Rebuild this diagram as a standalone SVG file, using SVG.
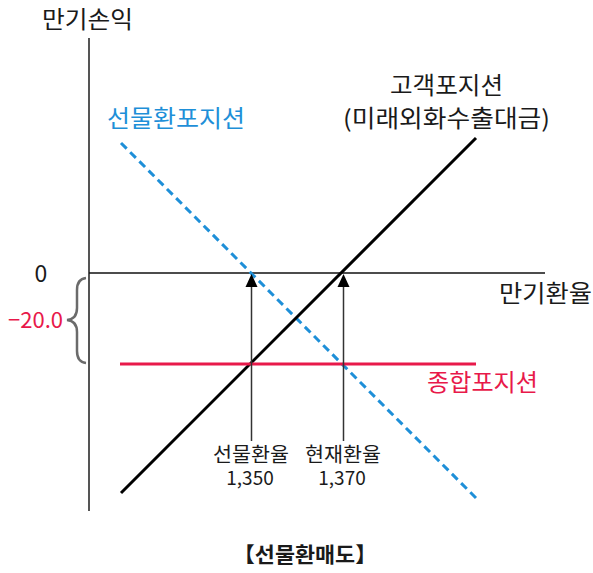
<svg xmlns="http://www.w3.org/2000/svg" width="593" height="573" viewBox="0 0 593 573">
<defs>
<style>
text{font-family:"Noto Sans CJK KR","Malgun Gothic","Noto Sans",sans-serif;}
.k{fill:#1a1a1a;font-size:23.5px;}
.s{fill:#1a1a1a;font-size:20px;}
.n{fill:#1a1a1a;font-size:19px;text-anchor:middle;}
.b{fill:#1e8fd8;font-size:23.5px;}
.r{fill:#e8194a;font-size:23.5px;}
.arr{stroke:#333;stroke-width:1.5;fill:none;}
.head{fill:#000;}
</style>
</defs>
<rect width="593" height="573" fill="#fff"/>
<g id="axes">
<line x1="89" y1="38" x2="89" y2="511" stroke="#555" stroke-width="2"/>
<line x1="89" y1="273" x2="545" y2="273" stroke="#111" stroke-width="1.3"/>
<path d="M86,278 Q77,279 77,290 L77,308 Q77,319 67,320 Q77,321 77,332 L77,351 Q77,362 86,363" fill="none" stroke="#6b6b6b" stroke-width="2.5"/>
</g>
<g id="connectors">
<line id="forward-position" x1="121" y1="143" x2="479" y2="501" stroke="#1e8fd8" stroke-width="3" stroke-dasharray="8,5"/>
<line id="customer-position" x1="121" y1="493" x2="476" y2="138" stroke="#000" stroke-width="3"/>
<line id="total-position" x1="120" y1="364" x2="476" y2="364" stroke="#e8194a" stroke-width="3.2"/>
<line class="arr" x1="251.5" y1="441" x2="251.5" y2="284"/>
<polygon class="head" points="251.5,274 245.5,287 257.5,287"/>
<line class="arr" x1="343.5" y1="441" x2="343.5" y2="284"/>
<polygon class="head" points="343.5,274 337.5,287 349.5,287"/>
</g>
<g id="labels">
<text class="k" x="42" y="28" textLength="91" lengthAdjust="spacingAndGlyphs">만기손익</text>
<text class="b" x="107" y="127" textLength="138" lengthAdjust="spacingAndGlyphs">선물환포지션</text>
<text class="k" x="390" y="94" textLength="113" lengthAdjust="spacingAndGlyphs">고객포지션</text>
<text class="k" x="343" y="127" textLength="207" lengthAdjust="spacingAndGlyphs">(미래외화수출대금)</text>
<text class="k" x="41" y="282" text-anchor="middle" style="font-size:23px">0</text>
<text class="r" x="8" y="328" textLength="55" lengthAdjust="spacingAndGlyphs" style="font-size:22px">−20.0</text>
<text class="k" x="499" y="302" textLength="93" lengthAdjust="spacingAndGlyphs">만기환율</text>
<text class="r" x="427" y="391" textLength="111" lengthAdjust="spacingAndGlyphs">종합포지션</text>
<text class="s" x="213" y="462" textLength="76" lengthAdjust="spacingAndGlyphs">선물환율</text>
<text class="n" x="250" y="485">1,350</text>
<text class="s" x="305" y="462" textLength="76" lengthAdjust="spacingAndGlyphs">현재환율</text>
<text class="n" x="342" y="485">1,370</text>
<text class="s" x="233" y="562" style="font-weight:600;font-size:21px" textLength="144" lengthAdjust="spacingAndGlyphs">【선물환매도】</text>
</g>
</svg>
